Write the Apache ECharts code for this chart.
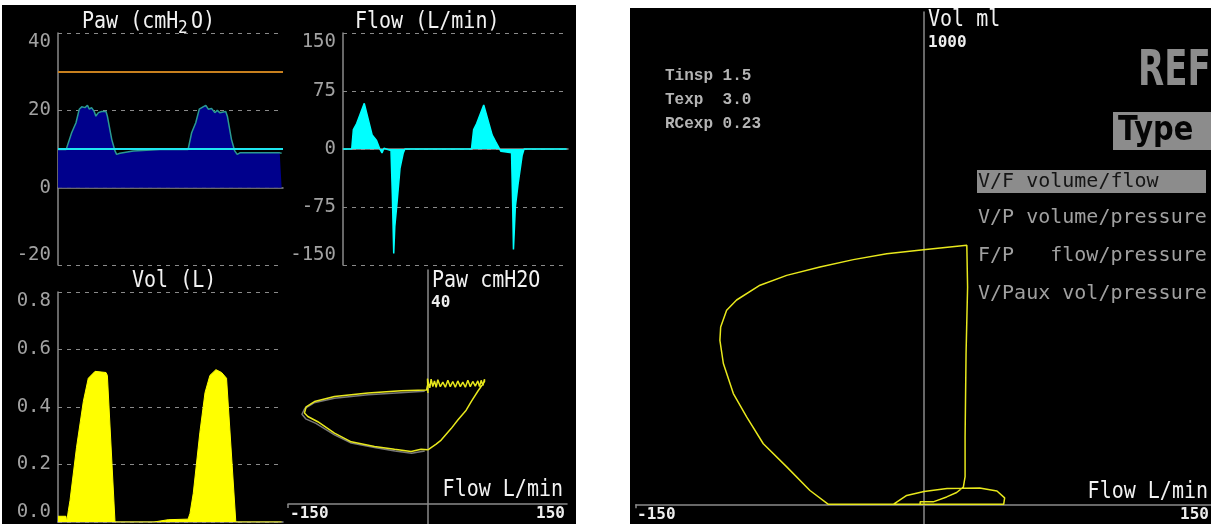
<!DOCTYPE html>
<html><head><meta charset="utf-8">
<script src="https://cdn.jsdelivr.net/npm/echarts@6/dist/echarts.min.js"></script>
<style>html,body{margin:0;padding:0;background:#fff;}#c{width:1211px;height:524px;}</style>
</head><body><div id="c"></div><script>
// ---------- DATA ----------
const timeMax = 8.25; // seconds shown in waveform panels
const pawTicks = [-20, 0, 20, 40];
const flowTicks = [-150, -75, 0, 75, 150];
const volTicks = [0, 0.2, 0.4, 0.6, 0.8];
const loopFlowTicks = [-150, 150];
const loopPawMaxLabel = '40';
const vfVolMaxLabel = '1000';
const pawAlarm = 30;
const peepLevel = 10;

const pawTime = [0, 0.30, 0.50, 0.66, 0.78, 0.87, 0.99, 1.08, 1.15, 1.23, 1.32, 1.39, 1.48, 1.60, 1.76, 1.81, 1.97, 2.09, 2.15, 2.27, 2.76, 3.74, 4.77, 4.90, 5.05, 5.18, 5.32, 5.42, 5.51, 5.63, 5.75, 5.84, 5.93, 6.15, 6.21, 6.36, 6.48, 6.57, 6.67, 8.13, 8.20];
const pawValues = [9.9, 9.9, 14.2, 16.8, 20.3, 20.9, 20.7, 21.3, 20.3, 20.7, 19.8, 18.5, 19.4, 19.7, 19.7, 18.5, 12.5, 9.5, 8.6, 8.9, 9.5, 9.9, 9.9, 14.2, 16.8, 20.3, 20.9, 21.3, 20.3, 20.5, 19.4, 20.0, 19.4, 19.7, 18.5, 12.5, 9.5, 8.6, 9.0, 9.0, 8.9];

const flowTime = [0, 0.32, 0.38, 0.50, 0.78, 1.07, 1.23, 1.35, 1.43, 1.50, 1.76, 1.81, 1.86, 1.90, 1.98, 2.09, 2.21, 2.27, 4.71, 4.79, 4.90, 5.16, 5.47, 5.59, 5.79, 6.18, 6.22, 6.25, 6.32, 6.42, 6.57, 6.64, 8.20];
const flowValues = [0, 0, 25, 33, 59, 18, 11, 0, -5, 1, -2, -60, -135, -100, -70, -25, -5, 0, 0, 25, 33, 57, 18, 10, -3, -5, -70, -130, -75, -45, -8, 0, 0];

const volTime = [0, 0.29, 0.32, 0.38, 0.44, 0.68, 0.93, 1.11, 1.36, 1.76, 1.81, 2.09, 3.52, 3.53, 4.04, 4.77, 4.84, 4.96, 5.20, 5.39, 5.57, 5.79, 6.00, 6.18, 6.52, 8.20];
const volValues = [0.02, 0.02, 0.0, 0.04, 0.075, 0.26, 0.42, 0.50, 0.524, 0.52, 0.51, 0.0, 0.0, 0.005, 0.008, 0.01, 0.03, 0.10, 0.31, 0.45, 0.51, 0.53, 0.52, 0.50, 0.0, 0.0];

const loopFlow = [0.4, 9.3, 14.7, 25.4, 32.6, 41.6, 47, 54.1, 61.3, 61.3, 59.5, 57.7, 55.9, 54.1, 51.4, 48.7, 46.0, 43.4, 40.7, 38, 35.3, 32.6, 29.9, 27.2, 24.5, 21.9, 19.2, 16.5, 13.8, 11.1, 9.3, 7.5, 5.7, 3.9, 2.5, 1, 0, 0.5, 0, -1, -28.3, -64, -100, -121.5, -130.5, -132.3, -128.7, -118, -100, -82, -57, -35.5, -17.6, -6.9, 0.4];
const loopPaw = [9.4, 10.4, 11.1, 13.1, 14.6, 16.3, 17.8, 19.6, 21.3, 21.7, 20.6, 21.5, 20.4, 21.4, 20.5, 21.3, 20.4, 21.5, 20.3, 21.2, 20.4, 21.4, 20.3, 21.3, 20.4, 21.5, 20.3, 21.2, 20.4, 21.6, 20.3, 21.4, 20.4, 21.7, 20.2, 21.0, 21.8, 19.3, 20.6, 19.8, 19.7, 19.3, 18.7, 17.8, 16.9, 15.8, 15.2, 14.3, 12.3, 10.8, 10.0, 9.5, 9.1, 9.5, 9.4];
const refLoopFlow = [-3, -64, -100, -122, -132, -135, -131, -120, -100, -82, -57, -35, -17, -3];
const refLoopPaw = [19.6, 19.0, 18.4, 17.6, 16.6, 15.6, 14.8, 14.0, 12.0, 10.6, 9.8, 9.2, 8.8, 9.2];

const vfFlow = [-16, -16, -9, 0, 12, 29, 38, 42, 41.5, -49.8, -59.4, -71.5, -83.7, -92.3, -99.3, -104.5, -106.3, -105.9, -102.8, -97.6, -85.4, -71.5, -54.2, -36.8, -19.4, -0.3, 22.3, 22.7, 21.9, 21.4, 21.4, 20.5, 17, 11.8, 4.8, -2, -2];
const vfVol = [0, 4, 18, 26, 32, 33, 27, 13, 0, 0, 28, 76, 123, 177, 225, 286, 333, 360, 394, 415, 445, 465, 482, 497, 509, 517, 526, 441, 305, 136, 56, 35, 24, 15, 5, 5, 0];

const infoLines = ['Tinsp 1.5', 'Texp  3.0', 'RCexp 0.23'];
const menuItems = ['V/F volume/flow', 'V/P volume/pressure', 'F/P   flow/pressure', 'V/Paux vol/pressure'];

// ---------- CHART ----------
const pair = (xs, ys) => xs.map((x, i) => [x, ys[i]]);
const GREY = '#8a8a8a';
const MONO = "'DejaVu Sans Mono', monospace";

function timeX(g) {
  return { type: 'value', gridIndex: g, min: 0, max: timeMax,
    axisLine: { show: true, onZero: true, lineStyle: { color: GREY, width: 1.5 } },
    axisTick: { show: false }, axisLabel: { show: false }, splitLine: { show: false } };
}
function levelY(g, ticks, fmt) {
  return { type: 'value', gridIndex: g, min: ticks[0], max: ticks[ticks.length - 1], interval: ticks[1] - ticks[0],
    axisLine: { show: true, onZero: false, lineStyle: { color: GREY, width: 1.5 } },
    axisTick: { show: false },
    axisLabel: { color: '#a2a2a2', fontSize: 19, fontFamily: MONO, margin: 7, formatter: fmt,
      verticalAlignMaxLabel: 'top', verticalAlignMinLabel: 'bottom' },
    splitLine: { show: true, lineStyle: { color: GREY, type: [4, 5], width: 1 } } };
}
function loopX(g) {
  return { type: 'value', gridIndex: g, min: loopFlowTicks[0], max: loopFlowTicks[1], interval: 150,
    axisLine: { show: true, onZero: true, lineStyle: { color: GREY, width: 1.5 } },
    axisTick: { show: true, customValues: [loopFlowTicks[0]], length: 4, lineStyle: { color: GREY, width: 1.5 } },
    axisLabel: { show: false },
    splitLine: { show: false } };
}
function loopY(g, min, max) {
  return { type: 'value', gridIndex: g, min: min, max: max,
    axisLine: { show: true, onZero: true, lineStyle: { color: GREY, width: 1.5 } },
    axisTick: { show: false }, axisLabel: { show: false }, splitLine: { show: false } };
}

function txt(x, y, text, o) {
  o = o || {};
  return { type: 'text', x: x, y: y, z: 50, scaleX: o.sx || 1, scaleY: o.sy || 1,
    style: { text: text, fill: o.color || '#f2f2f2', fontSize: o.size || 20, fontFamily: o.font || MONO,
      fontWeight: o.weight || 'normal', textAlign: o.align || 'left', align: o.align || 'left',
      textVerticalAlign: 'middle', verticalAlign: 'middle' } };
}
function rect(x, y, w, h, fill, z) {
  return { type: 'rect', z: z, shape: { x: x, y: y, width: w, height: h }, style: { fill: fill } };
}

const infoFont = "'Liberation Mono', 'DejaVu Sans Mono', monospace";
const tickLbl = { size: 16, weight: 'bold', color: '#eeeeee' };
const graphics = [
  // white frame gaps
  rect(576, 0, 54, 524, '#ffffff', 100),
  rect(0, 0, 576, 5, '#ffffff', 100),
  rect(630, 0, 581, 8, '#ffffff', 100),
  rect(0, 0, 2, 524, '#ffffff', 100),
  // titles
  txt(82, 22, 'Paw (cmH', { sy: 1.18 }),
  txt(178, 28, '2', { size: 16, sy: 1.1 }),
  txt(191, 22, 'O)', { sy: 1.18 }),
  txt(355, 22, 'Flow (L/min)', { sy: 1.18 }),
  txt(132, 281, 'Vol (L)', { sy: 1.18 }),
  // small loop labels
  txt(432, 281, 'Paw cmH2O', { sy: 1.18 }),
  txt(431, 303, loopPawMaxLabel, tickLbl),
  txt(563, 490, 'Flow L/min', { sy: 1.18, align: 'right' }),
  txt(290, 514, String(loopFlowTicks[0]), tickLbl),
  txt(565, 514, String(loopFlowTicks[1]), Object.assign({ align: 'right' }, tickLbl)),
  // big loop labels
  txt(928, 20, 'Vol ml', { sy: 1.18 }),
  txt(928, 43, vfVolMaxLabel, tickLbl),
  txt(1208, 492, 'Flow L/min', { sy: 1.18, align: 'right' }),
  txt(637, 515, String(loopFlowTicks[0]), tickLbl),
  txt(1209, 515, String(loopFlowTicks[1]), Object.assign({ align: 'right' }, tickLbl)),
  // info text
  txt(665, 76, infoLines[0], { size: 16, weight: 'bold', color: '#b4b4b4', font: infoFont }),
  txt(665, 100, infoLines[1], { size: 16, weight: 'bold', color: '#b4b4b4', font: infoFont }),
  txt(665, 124, infoLines[2], { size: 16, weight: 'bold', color: '#b4b4b4', font: infoFont }),
  // REF / Type
  txt(1138, 72, 'REF', { size: 50, sx: 0.68, weight: 'bold', color: '#8c8c8c', font: "'DejaVu Sans', sans-serif" }),
  rect(1113, 112, 100, 38, '#8c8c8c', 40),
  txt(1118, 131, 'Type', { size: 34, sx: 0.85, weight: 'bold', color: '#050505', font: "'DejaVu Sans', sans-serif" }),
  // menu
  rect(977, 170, 229, 23, '#8c8c8c', 40),
  txt(978, 182, menuItems[0], { color: '#151515' }),
  txt(978, 218, menuItems[1], { color: '#a0a0a0' }),
  txt(978, 256, menuItems[2], { color: '#a0a0a0' }),
  txt(978, 294, menuItems[3], { color: '#a0a0a0' })
];

const chart = echarts.init(document.getElementById('c'), null, { renderer: 'canvas' });
chart.setOption({
  backgroundColor: '#000000',
  animation: false,
  grid: [
    { left: 58, top: 33, width: 225, height: 232, outerBoundsMode: 'none' },
    { left: 343, top: 33, width: 225, height: 232, outerBoundsMode: 'none' },
    { left: 58, top: 292, width: 225, height: 230, outerBoundsMode: 'none' },
    { left: 288, top: 270, width: 279, height: 254, outerBoundsMode: 'none' },
    { left: 636, top: 12, width: 576, height: 512, outerBoundsMode: 'none' }
  ],
  xAxis: [timeX(0), timeX(1), timeX(2), loopX(3), loopX(4)],
  yAxis: [
    levelY(0, pawTicks, v => String(v)),
    levelY(1, flowTicks, v => String(v)),
    levelY(2, volTicks, v => v.toFixed(1)),
    loopY(3, -3.5, 40.7),
    loopY(4, -40, 1000)
  ],
  graphic: { elements: graphics },
  series: [
    { type: 'line', name: 'Paw', xAxisIndex: 0, yAxisIndex: 0, data: pair(pawTime, pawValues),
      showSymbol: false, lineStyle: { color: '#2a9a92', width: 1.5 }, areaStyle: { color: '#00008c', opacity: 1 },
      markLine: { silent: true, symbol: ['none', 'none'], label: { show: false },
        data: [ { yAxis: pawAlarm, lineStyle: { color: '#c8801e', width: 2, type: 'solid' } },
                { yAxis: peepLevel, lineStyle: { color: '#1ee6f0', width: 2, type: 'solid' } } ] } },
    { type: 'line', name: 'Flow', xAxisIndex: 1, yAxisIndex: 1, data: pair(flowTime, flowValues),
      showSymbol: false, lineStyle: { color: '#00ffff', width: 1.5 }, areaStyle: { color: '#00ffff', opacity: 1 } },
    { type: 'line', name: 'Vol', xAxisIndex: 2, yAxisIndex: 2, data: pair(volTime, volValues),
      showSymbol: false, lineStyle: { color: '#ffff00', width: 1 }, areaStyle: { color: '#ffff00', opacity: 1 } },
    { type: 'line', name: 'RefLoop', xAxisIndex: 3, yAxisIndex: 3, data: pair(refLoopFlow, refLoopPaw),
      showSymbol: false, lineStyle: { color: '#777777', width: 1.5 } },
    { type: 'line', name: 'PawFlowLoop', xAxisIndex: 3, yAxisIndex: 3, data: pair(loopFlow, loopPaw),
      showSymbol: false, lineStyle: { color: '#e8e81c', width: 1.5 } },
    { type: 'line', name: 'VolFlowLoop', xAxisIndex: 4, yAxisIndex: 4, data: pair(vfFlow, vfVol),
      showSymbol: false, lineStyle: { color: '#e8e81c', width: 1.5 } }
  ]
});
</script></body></html>
